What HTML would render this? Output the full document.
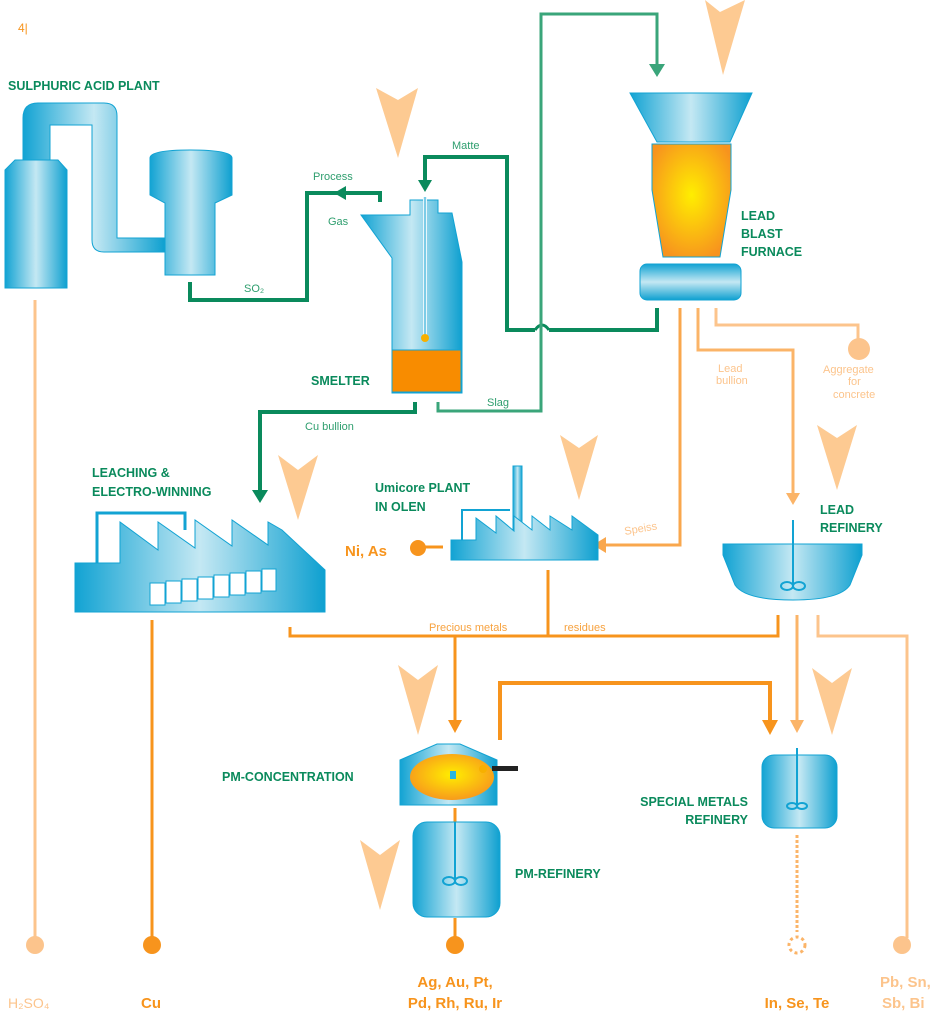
<!DOCTYPE html>
<html><head><meta charset="utf-8"><style>
html,body{margin:0;padding:0;background:#fff}
svg{display:block}
text{font-family:"Liberation Sans",sans-serif}
.g{fill:#0a8a5c;font-weight:bold;font-size:12.5px}
.gs{fill:#2e9e6e;font-size:11px}
.o{fill:#f7941d;font-weight:bold;font-size:15px}
.lo{fill:#fcc48c;font-weight:bold;font-size:15px}
.los{fill:#fcc48c;font-size:11px}
.os{fill:#f7a23f;font-size:11px}
</style></head><body>
<svg width="942" height="1024" viewBox="0 0 942 1024" xmlns="http://www.w3.org/2000/svg">
<defs>
<linearGradient id="b" x1="0" x2="1" y1="0" y2="0">
<stop offset="0" stop-color="#12a3d3"/><stop offset="0.5" stop-color="#c4e8f3"/><stop offset="1" stop-color="#0ea0d0"/></linearGradient>
<linearGradient id="bv" x1="0" x2="0" y1="0" y2="1">
<stop offset="0" stop-color="#12a3d3"/><stop offset="0.5" stop-color="#c4e8f3"/><stop offset="1" stop-color="#0ea0d0"/></linearGradient>
<radialGradient id="fire" cx="0.5" cy="0.45" r="0.6">
<stop offset="0" stop-color="#ffee00"/><stop offset="1" stop-color="#f7931e"/></radialGradient>
</defs>

<text x="18" y="32" fill="#f7941d" font-size="12">4|</text>

<!-- Sulphuric acid plant -->
<text class="g" x="8" y="90">SULPHURIC ACID PLANT</text>
<path d="M23,160 V118 Q23,103 38,103 H104 Q117,103 117,116 V238 H165 V252 H104 Q92,252 92,240 V125 H50 V160 Z" fill="url(#b)" stroke="#12a3d3"/>
<path d="M5,170 L15,160 H58 L67,170 V288 H5 Z" fill="url(#b)" stroke="#12a3d3"/>
<path d="M150,158 Q150,150 190,150 Q232,150 232,158 V195 L215,203 V275 H165 V203 L150,195 Z" fill="url(#b)" stroke="#12a3d3"/>
<line x1="35" y1="300" x2="35" y2="945" stroke="#fcc48c" stroke-width="3"/>
<circle cx="35" cy="945" r="9" fill="#fcc48c"/>
<text x="8" y="1008" fill="#fcc48c" font-size="14">H₂SO₄</text>

<!-- SO2 / process gas -->
<path d="M190,282 V300 H307 V193 H380 V202" fill="none" stroke="#0a8a5c" stroke-width="4"/>
<polygon points="334,193 346,186 346,200" fill="#0a8a5c"/>
<text class="gs" x="313" y="180">Process</text>
<text class="gs" x="328" y="225">Gas</text>
<text class="gs" x="244" y="292">SO₂</text>

<!-- Smelter -->
<polygon points="376,88 398,100 418,88 398,158" fill="#fdca92"/>
<path d="M361,215 H410 V200 H438 V213 H452 L462,262 V393 H392 V258 Z" fill="url(#b)" stroke="#12a3d3"/>
<rect x="392" y="350" width="69" height="42" fill="#f88c00" stroke="#12a3d3"/>
<line x1="425" y1="197" x2="425" y2="335" stroke="#e6f6fb" stroke-width="4"/>
<line x1="425" y1="197" x2="425" y2="335" stroke="#12a3d3" stroke-width="1"/>
<circle cx="425" cy="338" r="4" fill="#f7b000"/>
<text class="g" x="311" y="385">SMELTER</text>
<!-- Matte -->
<path d="M425,182 V157 H507 V330 H535 M549,330 H657 V308" fill="none" stroke="#0a8a5c" stroke-width="4"/>
<path d="M535,330 Q542,320 549,330" fill="none" stroke="#0a8a5c" stroke-width="3"/>
<polygon points="418,180 432,180 425,192" fill="#0a8a5c"/>
<text class="gs" x="452" y="149">Matte</text>
<!-- Slag -->
<path d="M438,402 V411 H541 V14 H657 V66" fill="none" stroke="#3aa57a" stroke-width="3"/>
<polygon points="649,64 665,64 657,77" fill="#3aa57a"/>
<text class="gs" x="487" y="406" fill="#3aa57a">Slag</text>
<!-- Cu bullion -->
<path d="M415,402 V412 H260 V492" fill="none" stroke="#0a8a5c" stroke-width="4"/>
<polygon points="252,490 268,490 260,503" fill="#0a8a5c"/>
<text class="gs" x="305" y="430">Cu bullion</text>

<!-- Lead blast furnace -->
<polygon points="705,0 720,12 745,0 723,75" fill="#fdca92"/>
<polygon points="630,93 752,93 730,142 657,142" fill="url(#b)" stroke="#12a3d3"/>
<path d="M652,144 H731 V190 L720,257 H663 L652,190 Z" fill="url(#fire)" stroke="#12a3d3"/>
<rect x="640" y="264" width="101" height="36" rx="7" fill="url(#bv)" stroke="#12a3d3"/>
<text class="g" x="741" y="220">LEAD</text>
<text class="g" x="741" y="238">BLAST</text>
<text class="g" x="741" y="256">FURNACE</text>
<!-- outputs from LBF -->
<path d="M680,308 V545 H603" fill="none" stroke="#f9a74d" stroke-width="3"/>
<polygon points="593,545 606,537 606,553" fill="#f9a74d"/>
<text class="los" x="625" y="535" transform="rotate(-10 625 535)">Speiss</text>
<path d="M698,308 V350 H793 V495" fill="none" stroke="#fbb468" stroke-width="3"/>
<polygon points="786,493 800,493 793,505" fill="#fbb468"/>
<text class="los" x="718" y="372">Lead</text>
<text class="los" x="716" y="384">bullion</text>
<path d="M716,308 V325 H858 V340" fill="none" stroke="#fcc48c" stroke-width="3"/>
<circle cx="859" cy="349" r="11" fill="#fcc48c"/>
<text class="los" x="823" y="373">Aggregate</text>
<text class="los" x="848" y="385">for</text>
<text class="los" x="833" y="398">concrete</text>

<!-- Leaching -->
<polygon points="278,455 298,470 318,455 298,520" fill="#fdca92"/>
<text class="g" x="92" y="477">LEACHING &amp;</text>
<text class="g" x="92" y="496">ELECTRO-WINNING</text>
<path d="M97,563 V513 H185 V530" fill="none" stroke="#12a3d3" stroke-width="3"/>
<path d="M75,563 H120 V522 L158,550 V522 L195,548 V520 L232,546 V520 L268,545 V522 L282,530 L325,570 V612 H75 Z" fill="url(#b)" stroke="#12a3d3"/>
<g fill="#fff" stroke="#12a3d3">
<rect x="150" y="583" width="15" height="22"/><rect x="166" y="581" width="15" height="22"/><rect x="182" y="579" width="15" height="22"/><rect x="198" y="577" width="15" height="22"/><rect x="214" y="575" width="15" height="22"/><rect x="230" y="573" width="15" height="22"/><rect x="246" y="571" width="15" height="22"/><rect x="262" y="569" width="14" height="22"/>
</g>
<line x1="152" y1="620" x2="152" y2="945" stroke="#f7941d" stroke-width="3"/>
<circle cx="152" cy="945" r="9" fill="#f7941d"/>
<text class="o" x="141" y="1008">Cu</text>

<!-- Umicore -->
<polygon points="560,435 579,448 598,435 579,500" fill="#fdca92"/>
<text class="g" x="375" y="492">Umicore PLANT</text>
<text class="g" x="375" y="511">IN OLEN</text>
<path d="M462,540 V510 H510" fill="none" stroke="#12a3d3" stroke-width="2"/>
<rect x="513" y="466" width="9" height="70" fill="url(#b)" stroke="#12a3d3"/>
<path d="M451,540 H476 V518 L496,533 V516 L514,531 V516 L532,530 V516 L550,530 V516 L572,530 V516 L598,535 V560 H451 Z" fill="url(#b)" stroke="#12a3d3"/>
<text class="o" x="345" y="556">Ni, As</text>
<circle cx="418" cy="548" r="8" fill="#f7941d"/>
<line x1="418" y1="547" x2="443" y2="547" stroke="#f7941d" stroke-width="3"/>

<!-- Lead refinery -->
<polygon points="817,425 837,438 857,425 837,490" fill="#fdca92"/>
<text class="g" x="820" y="514">LEAD</text>
<text class="g" x="820" y="532">REFINERY</text>
<path d="M723,544 H862 V555 L850,585 Q840,600 793,600 Q745,600 735,585 L723,555 Z" fill="url(#b)" stroke="#12a3d3"/>
<line x1="793" y1="520" x2="793" y2="585" stroke="#12a3d3" stroke-width="2"/>
<ellipse cx="787" cy="586" rx="6" ry="4" fill="none" stroke="#12a3d3" stroke-width="2"/>
<ellipse cx="799" cy="586" rx="6" ry="4" fill="none" stroke="#12a3d3" stroke-width="2"/>

<!-- Precious metals residues -->
<path d="M290,627 V636 H778 V615" fill="none" stroke="#f7941d" stroke-width="3"/>
<line x1="548" y1="570" x2="548" y2="636" stroke="#f7941d" stroke-width="3"/>
<text class="os" x="429" y="631">Precious metals</text>
<text class="os" x="564" y="631">residues</text>
<line x1="455" y1="636" x2="455" y2="722" stroke="#f7941d" stroke-width="3"/>
<polygon points="448,720 462,720 455,733" fill="#f7941d"/>
<path d="M500,740 V683 H770 V722" fill="none" stroke="#f7941d" stroke-width="4"/>
<polygon points="762,720 778,720 770,735" fill="#f7941d"/>
<line x1="797" y1="615" x2="797" y2="722" stroke="#fbb468" stroke-width="3"/>
<polygon points="790,720 804,720 797,733" fill="#fbb468"/>
<path d="M818,615 V636 H907 V938" fill="none" stroke="#fcc48c" stroke-width="3"/>
<circle cx="902" cy="945" r="9" fill="#fcc48c"/>
<text class="lo" x="880" y="987">Pb, Sn,</text>
<text class="lo" x="882" y="1008">Sb, Bi</text>

<!-- PM concentration -->
<polygon points="398,665 418,680 438,665 418,735" fill="#fdca92"/>
<text class="g" x="222" y="781">PM-CONCENTRATION</text>
<path d="M400,760 L437,744 H460 L497,760 V805 H400 Z" fill="url(#b)" stroke="#12a3d3"/>
<ellipse cx="452" cy="777" rx="42" ry="23" fill="url(#fire)"/>
<rect x="450" y="771" width="6" height="8" fill="#2bb5e0"/>
<circle cx="483" cy="769" r="4" fill="#f7b000"/>
<rect x="492" y="766" width="26" height="5" fill="#222"/>
<line x1="455" y1="808" x2="455" y2="822" stroke="#f7941d" stroke-width="3"/>

<!-- Special metals refinery -->
<polygon points="812,668 832,683 852,668 832,735" fill="#fdca92"/>
<text class="g" x="748" y="806" text-anchor="end">SPECIAL METALS</text>
<text class="g" x="748" y="824" text-anchor="end">REFINERY</text>
<rect x="762" y="755" width="75" height="73" rx="12" fill="url(#b)" stroke="#12a3d3"/>
<line x1="797" y1="748" x2="797" y2="805" stroke="#12a3d3" stroke-width="2"/>
<ellipse cx="792" cy="806" rx="5" ry="3" fill="none" stroke="#12a3d3" stroke-width="2"/>
<ellipse cx="802" cy="806" rx="5" ry="3" fill="none" stroke="#12a3d3" stroke-width="2"/>
<line x1="797" y1="835" x2="797" y2="932" stroke="#fbb468" stroke-width="3" stroke-dasharray="3,2"/>
<circle cx="797" cy="945" r="8" fill="none" stroke="#fbb468" stroke-width="3" stroke-dasharray="3,3"/>
<text class="o" x="797" y="1008" text-anchor="middle">In, Se, Te</text>

<!-- PM refinery -->
<polygon points="360,840 380,855 400,840 380,910" fill="#fdca92"/>
<rect x="413" y="822" width="87" height="95" rx="14" fill="url(#b)" stroke="#12a3d3"/>
<line x1="455" y1="822" x2="455" y2="880" stroke="#12a3d3" stroke-width="2"/>
<ellipse cx="449" cy="881" rx="6" ry="4" fill="none" stroke="#12a3d3" stroke-width="2"/>
<ellipse cx="461" cy="881" rx="6" ry="4" fill="none" stroke="#12a3d3" stroke-width="2"/>
<text class="g" x="515" y="878">PM-REFINERY</text>
<line x1="455" y1="918" x2="455" y2="940" stroke="#f7941d" stroke-width="3"/>
<circle cx="455" cy="945" r="9" fill="#f7941d"/>
<text class="o" x="455" y="987" text-anchor="middle">Ag, Au, Pt,</text>
<text class="o" x="455" y="1008" text-anchor="middle">Pd, Rh, Ru, Ir</text>
</svg>
</body></html>
